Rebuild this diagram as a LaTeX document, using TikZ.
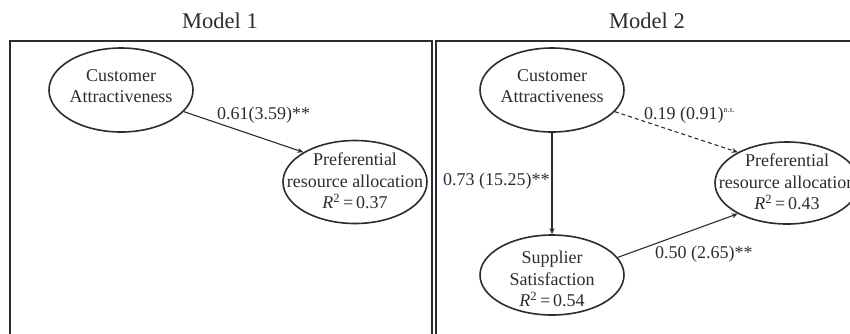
\documentclass[tikz,border=0pt]{standalone}
\usepackage{fontspec}
\setmainfont{Liberation Serif}
\usetikzlibrary{shapes.geometric,arrows.meta}
\definecolor{ink}{HTML}{2B2B33}
\begin{document}
\begin{tikzpicture}[x=1pt,y=-1pt,
  oval/.style={ellipse,draw=ink,line width=1.6pt,minimum width=144pt,minimum height=84pt,inner sep=0pt},
  txt/.style={align=center,font=\fontsize{18}{21.5}\selectfont,text=ink,inner sep=0pt},
  coef/.style={font=\fontsize{18}{21}\selectfont,text=ink,inner sep=0pt,anchor=base west},
  heading/.style={font=\fontsize{22.5}{26}\selectfont,text=ink,inner sep=0pt},
  effect/.style={draw=ink,line width=1.1pt,-{Stealth[length=6pt,width=5pt]}},
  frame/.style={draw=ink,line width=1.3pt}]
\useasboundingbox (0,0) rectangle (850,333);
\clip (0,0) rectangle (850,333);

% panel frames (open at the bottom)
\draw[frame] (10,345) -- (10,41) -- (432,41) -- (432,345);
\draw[frame] (436,345) -- (436,41) -- (870,41);

% headings
\node[heading] (h1) at (220,20.5) {Model 1};
\node[heading] (h2) at (647,20.5) {Model 2};

% ---- Model 1 ----
\node[oval] (ca1) at (121,90) {};
\node[txt] (ca1t) at (121,86) {Customer\\Attractiveness};
\node[oval,minimum height=83pt] (pr1) at (355,182) {};
\node[txt] (pr1t) at (355,181) {Preferential\\resource allocation\\\textit{R}\textsuperscript{2}\,=\,0.37};
\draw[effect] (ca1.-19.5) -- (pr1.150);
\node[coef] (c1) at (217,119) {0.61(3.59)**};

% ---- Model 2 ----
\node[oval] (ca2) at (552,90) {};
\node[txt] (ca2t) at (552,86) {Customer\\Attractiveness};
\node[oval,minimum height=82pt] (pr2) at (787,183) {};
\node[txt] (pr2t) at (787,182) {Preferential\\resource allocation\\\textit{R}\textsuperscript{2}\,=\,0.43};
\node[oval,minimum height=80pt] (ss) at (552,275) {};
\node[txt] (sst) at (552,279) {Supplier\\Satisfaction\\\textit{R}\textsuperscript{2}\,=\,0.54};

\draw[effect] (ca2.south) -- (ss.north);
\draw[effect,dashed,dash pattern=on 4pt off 3pt] (ca2.-19.8) -- (pr2.148);
\draw[effect] (ss.15) -- (pr2.212);

\node[coef] (c2) at (443,185) {0.73 (15.25)**};
\node[coef] (c3) at (644,119) {0.19 (0.91)\textsuperscript{\fontsize{8}{9}\selectfont n.s.}};
\node[coef] (c4) at (655,258) {0.50 (2.65)**};
\end{tikzpicture}
\end{document}
